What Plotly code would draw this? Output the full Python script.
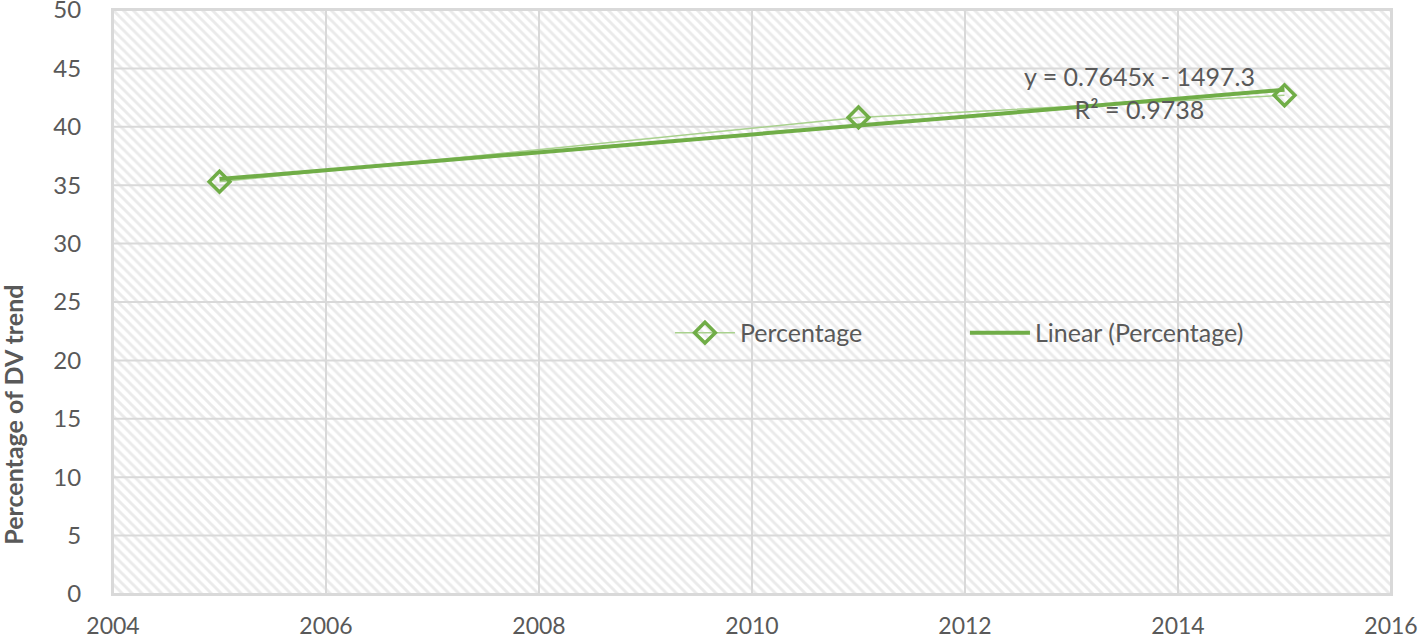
import plotly.graph_objects as go

# Data
years = [2005, 2011, 2015]
percentage = [35.3, 40.8, 42.7]
slope = 0.7645
intercept = -1497.3
r_squared = 0.9738
x_ticks = [2004, 2006, 2008, 2010, 2012, 2014, 2016]
y_ticks = [0, 5, 10, 15, 20, 25, 30, 35, 40, 45, 50]

X_RANGE = [2004, 2016]
Y_RANGE = [0, 50]

trend_x = [years[0], years[-1]]
trend_y = [slope * x + intercept for x in trend_x]

GREEN = "#70ad47"
LIGHT_GREEN = "#a9d18e"
TEXT = "#595959"
GRID = "#d9d9d9"
FONT = "Lato"

fig = go.Figure()

# hatched plot-area background
fig.add_trace(go.Scatter(
    x=[X_RANGE[0], X_RANGE[1], X_RANGE[1], X_RANGE[0], X_RANGE[0]],
    y=[Y_RANGE[0], Y_RANGE[0], Y_RANGE[1], Y_RANGE[1], Y_RANGE[0]],
    mode="lines", line=dict(width=0), fill="toself",
    fillcolor="white",
    fillpattern=dict(shape="\\", size=7, solidity=0.42, fgcolor="#d6d6d6", bgcolor="white"),
    showlegend=False, hoverinfo="skip",
))

# gridlines drawn above the hatching, below the data
gx, gy = [], []
for t in y_ticks:
    gx += [X_RANGE[0], X_RANGE[1], None]
    gy += [t, t, None]
for t in x_ticks:
    gx += [t, t, None]
    gy += [Y_RANGE[0], Y_RANGE[1], None]
fig.add_trace(go.Scatter(x=gx, y=gy, mode="lines", line=dict(color=GRID, width=2),
                         showlegend=False, hoverinfo="skip"))

fig.add_trace(go.Scatter(
    x=years, y=percentage, mode="lines+markers", name="Percentage",
    line=dict(color=LIGHT_GREEN, width=1.5),
    marker=dict(symbol="diamond-open", size=16, color=GREEN, line=dict(width=3.5, color=GREEN)),
))
fig.add_trace(go.Scatter(
    x=trend_x, y=trend_y, mode="lines", name="Linear (Percentage)",
    line=dict(color=GREEN, width=4),
))

fig.add_annotation(
    x=2013.64, y=42.9, xref="x", yref="y", yanchor="middle",
    text=f"y = {slope}x - {abs(intercept)}<br>R² = {r_squared}",
    showarrow=False, align="center",
    font=dict(family=FONT, size=25, color=TEXT),
)

# y-axis title (placed low, as in the reference)
fig.add_annotation(
    x=-0.0785, y=0.3065, xref="paper", yref="paper", xanchor="center", yanchor="middle",
    text="<b>Percentage of DV trend</b>", textangle=-90, showarrow=False,
    font=dict(family=FONT, size=25, color=TEXT),
)

fig.update_layout(
    width=1418, height=639,
    margin=dict(l=113, r=27, t=10, b=45),
    paper_bgcolor="white", plot_bgcolor="white",
    font=dict(family=FONT, size=24, color=TEXT),
    legend=dict(orientation="h", x=0.4358, y=0.447, xanchor="left", yanchor="middle",
                bgcolor="rgba(0,0,0,0)", font=dict(family=FONT, size=25, color=TEXT),
                itemwidth=60, entrywidth=220),
    xaxis=dict(range=X_RANGE, tickvals=x_ticks, showgrid=False,
               zeroline=False, showline=True, linecolor=GRID, linewidth=2, mirror=True,
               ticks="", ticklabelstandoff=10, automargin=False, ticklabeloverflow="allow",
               tickfont=dict(family=FONT, size=23, color=TEXT)),
    yaxis=dict(range=Y_RANGE, tickvals=y_ticks, showgrid=False,
               zeroline=False, showline=True, linecolor=GRID, linewidth=2, mirror=True,
               ticks="", ticklabelstandoff=25, automargin=False, ticklabeloverflow="allow",
               tickfont=dict(family=FONT, size=24, color=TEXT)),
)

fig.write_html("out.html", config={"displayModeBar": False},
               post_script="document.body.style.margin='0';document.body.style.overflow='hidden';")
